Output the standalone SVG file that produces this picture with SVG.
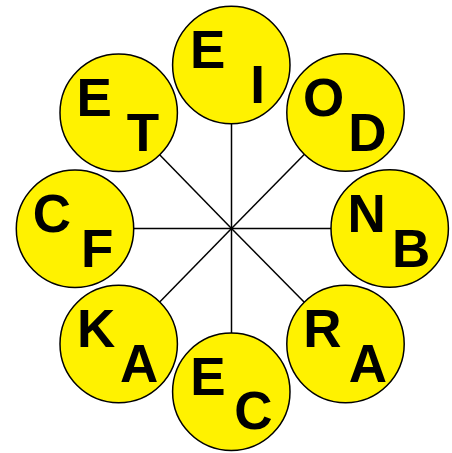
<svg xmlns="http://www.w3.org/2000/svg" width="452" height="453" viewBox="0 0 452 453">
<style>
.c{fill:#FFF200;stroke:#000;stroke-width:1.5}
.t{font-family:"Liberation Sans",Arial,sans-serif;font-weight:bold;font-size:53px;fill:#000;text-anchor:middle}
.l{stroke:#000;stroke-width:1.5;fill:none}
</style>
<rect width="452" height="453" fill="#fff"/>
<g id="connectors">
<line class="l" x1="231.5" y1="228.5" x2="231.5" y2="65"/>
<line class="l" x1="231.5" y1="228.5" x2="118.7" y2="112.7"/>
<line class="l" x1="231.5" y1="228.5" x2="345.5" y2="112.5"/>
<line class="l" x1="231.5" y1="228.5" x2="75" y2="228.5"/>
<line class="l" x1="231.5" y1="228.5" x2="389.7" y2="228.5"/>
<line class="l" x1="231.5" y1="228.5" x2="118.7" y2="344"/>
<line class="l" x1="231.5" y1="228.5" x2="231.5" y2="391.7"/>
<line class="l" x1="231.5" y1="228.5" x2="345.5" y2="344"/>
</g>
<g id="node-EI"><circle class="c" cx="231.3" cy="65" r="58.7"/><text class="t" x="207.8" y="68.3">E</text><text class="t" x="257.5" y="102.7">I</text></g>
<g id="node-ET"><circle class="c" cx="118.7" cy="112.7" r="58.7"/><text class="t" x="94.3" y="115.7">E</text><text class="t" x="143" y="150.7">T</text></g>
<g id="node-OD"><circle class="c" cx="345.5" cy="112.5" r="58.7"/><text class="t" x="323.7" y="115.7">O</text><text class="t" x="367.3" y="150.7">D</text></g>
<g id="node-CF"><circle class="c" cx="75" cy="228.7" r="58.7"/><text class="t" x="52" y="232">C</text><text class="t" x="97.3" y="266.7">F</text></g>
<g id="node-NB"><circle class="c" cx="389.7" cy="228.5" r="58.7"/><text class="t" x="366.7" y="231.7">N</text><text class="t" x="411.2" y="266.7">B</text></g>
<g id="node-KA"><circle class="c" cx="118.7" cy="344" r="58.7"/><text class="t" x="96.2" y="346.7">K</text><text class="t" x="139.2" y="381.7">A</text></g>
<g id="node-EC"><circle class="c" cx="231.3" cy="391.7" r="58.7"/><text class="t" x="208" y="395">E</text><text class="t" x="253.3" y="429">C</text></g>
<g id="node-RA"><circle class="c" cx="345.5" cy="344" r="58.7"/><text class="t" x="322.3" y="346.7">R</text><text class="t" x="367.8" y="381.7">A</text></g>
</svg>
